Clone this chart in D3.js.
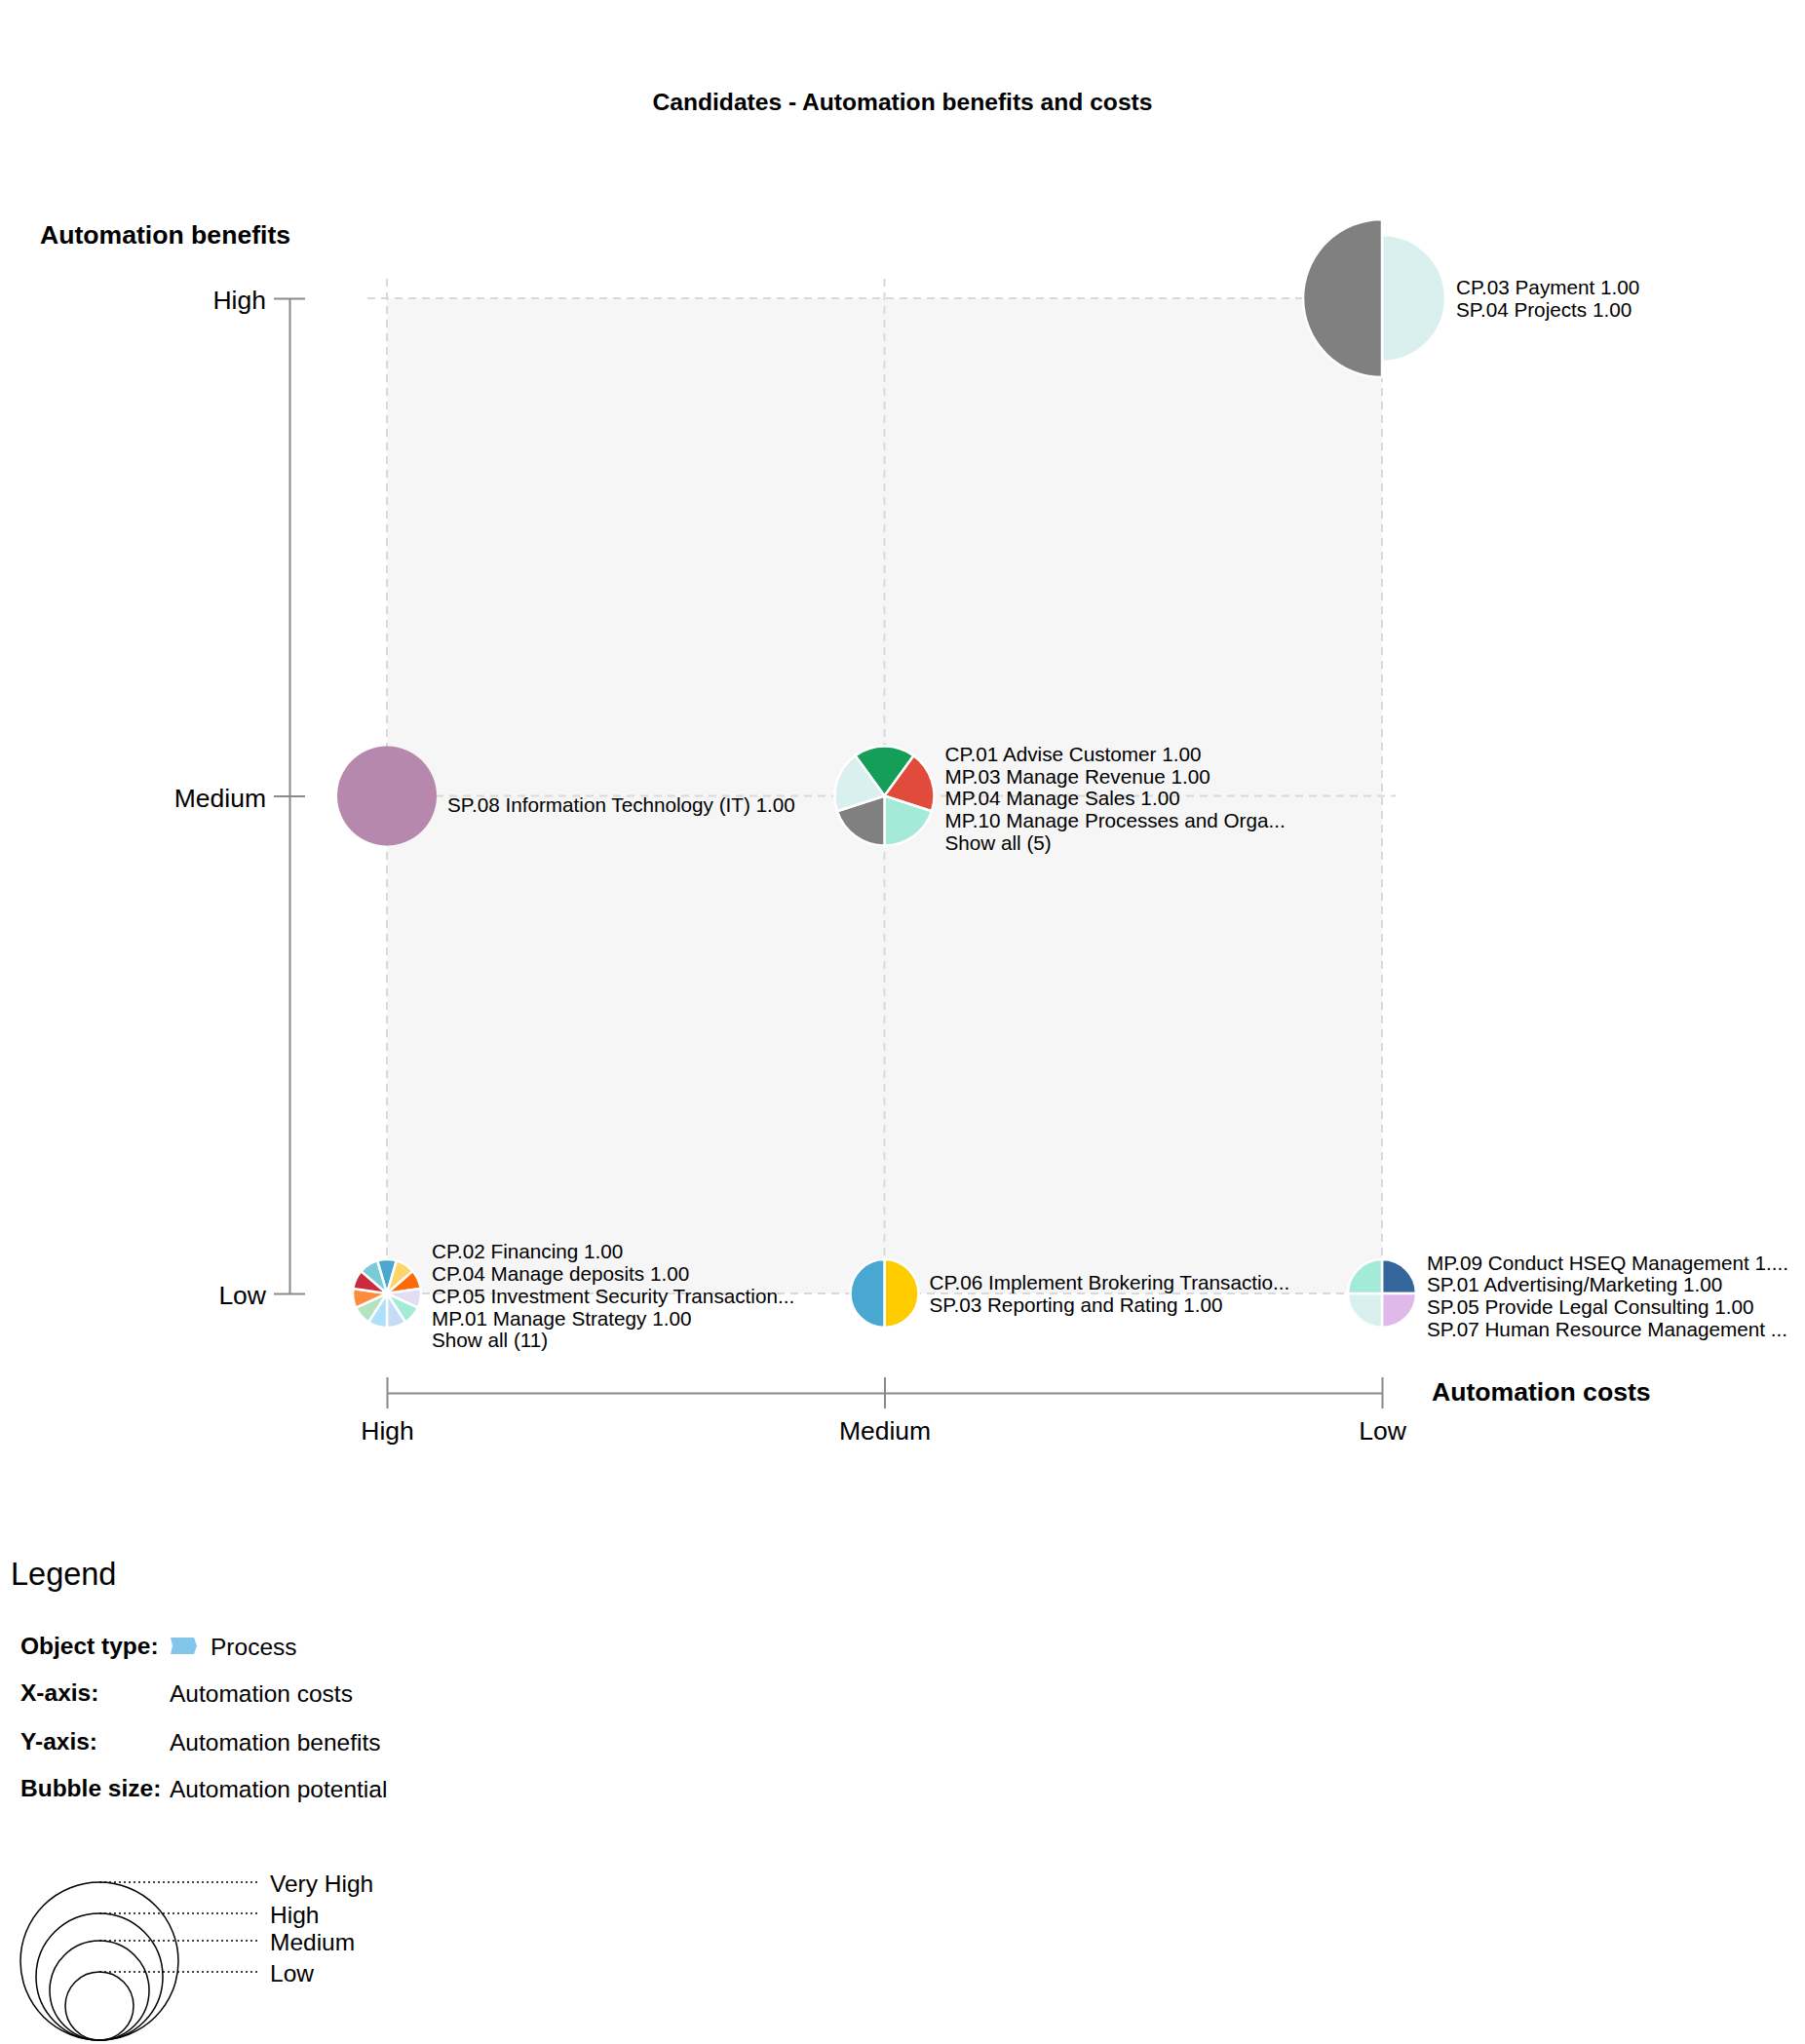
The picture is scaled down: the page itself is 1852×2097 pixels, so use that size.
<!DOCTYPE html>
<html>
<head>
<meta charset="utf-8">
<script src="https://cdn.jsdelivr.net/npm/d3@7"></script>
<style>
  body { margin: 0; background: #fff; overflow: hidden; }
  svg { display: block; font-family: "Liberation Sans", Arial, sans-serif; }
</style>
</head>
<body>
<script>
// axis levels
var costLevels = ['High', 'Medium', 'Low'];        // x axis, left to right
var benefitLevels = ['Low', 'Medium', 'High'];     // y axis, bottom to top
var potentialLevels = ['Low', 'Medium', 'High', 'Very High'];

// one entry per bubble
var bubbleCost = ['Low', 'High', 'Medium', 'High', 'Medium', 'Low'];
var bubbleBenefit = ['High', 'Medium', 'Medium', 'Low', 'Low', 'Low'];
var bubbleCount = [2, 1, 5, 11, 2, 4];
var bubbleLabels = [
    ['CP.03 Payment 1.00', 'SP.04 Projects 1.00'],
    ['SP.08 Information Technology (IT) 1.00'],
    ['CP.01 Advise Customer 1.00', 'MP.03 Manage Revenue 1.00', 'MP.04 Manage Sales 1.00', 'MP.10 Manage Processes and Orga...'],
    ['CP.02 Financing 1.00', 'CP.04 Manage deposits 1.00', 'CP.05 Investment Security Transaction...', 'MP.01 Manage Strategy 1.00'],
    ['CP.06 Implement Brokering Transactio...', 'SP.03 Reporting and Rating 1.00'],
    ['MP.09 Conduct HSEQ Management 1....', 'SP.01 Advertising/Marketing 1.00', 'SP.05 Provide Legal Consulting 1.00', 'SP.07 Human Resource Management ...']
];
// pie slices, clockwise
var sliceColors = [
    ['#daf0ef', '#808080'],
    ['#b788ad'],
    ['#149e57', '#e04b3b', '#a3ebd8', '#808080', '#daf0ef'],
    ['#4aa8d0', '#fdd66b', '#fe6a08', '#e1def2', '#a3ebd8', '#c6dcf4', '#aee0fa', '#b5e3c0', '#fe8c3f', '#c92a3e', '#7bcbd6'],
    ['#ffcc00', '#48a8d2'],
    ['#34659b', '#dfb9ea', '#daf0ef', '#a3ebd8']
];
var slicePotential = [
    ['High', 'Very High'],
    ['Medium'],
    ['Medium', 'Medium', 'Medium', 'Medium', 'Medium'],
    ['Low', 'Low', 'Low', 'Low', 'Low', 'Low', 'Low', 'Low', 'Low', 'Low', 'Low'],
    ['Low', 'Low'],
    ['Low', 'Low', 'Low', 'Low']
];

// legend texts
var legendKeys = ['Object type:', 'X-axis:', 'Y-axis:', 'Bubble size:'];
var legendValues = ['Process', 'Automation costs', 'Automation benefits', 'Automation potential'];

var W = 1852, H = 2097;
var svg = d3.select('body').append('svg').attr('width', W).attr('height', H);

var x = d3.scalePoint().domain(costLevels).range([397, 1418]);
var y = d3.scalePoint().domain(benefitLevels).range([1327, 306]);
var size = d3.scaleOrdinal().domain(potentialLevels).range([35, 51, 65, 81]);

// title
svg.append('text')
    .attr('x', 926).attr('y', 104.5).attr('dy', '0.35em')
    .attr('text-anchor', 'middle')
    .style('font-size', '24.6px').style('font-weight', 'bold')
    .text('Candidates - Automation benefits and costs');

// plot background + grid
svg.append('rect')
    .attr('x', x('High')).attr('y', y('High'))
    .attr('width', x('Low') - x('High')).attr('height', y('Low') - y('High'))
    .attr('fill', '#f6f6f6');

var grid = svg.append('g').attr('stroke', '#d9d9d9').attr('stroke-width', 2).attr('stroke-dasharray', '8,6');
grid.selectAll('.vg').data(costLevels).enter().append('line')
    .attr('x1', function(d){ return x(d); }).attr('x2', function(d){ return x(d); })
    .attr('y1', y('High') - 20).attr('y2', y('Low') + 20);
grid.selectAll('.hg').data(benefitLevels).enter().append('line')
    .attr('y1', function(d){ return y(d); }).attr('y2', function(d){ return y(d); })
    .attr('x1', x('High') - 20).attr('x2', x('Low') + 14);

// axes
var yAxis = svg.append('g').attr('transform', 'translate(297,0)')
    .call(d3.axisLeft(y).tickSizeInner(16).tickSizeOuter(0).tickPadding(8));
yAxis.selectAll('.tick line').attr('x1', 16);

var xAxis = svg.append('g').attr('transform', 'translate(0,1429)')
    .call(d3.axisBottom(x).tickSizeInner(16).tickSizeOuter(0).tickPadding(13));
xAxis.selectAll('.tick line').attr('y1', -16);

[yAxis, xAxis].forEach(function(a){
    a.select('.domain').attr('stroke', '#8a8a8a').attr('stroke-width', 2);
    a.selectAll('.tick line').attr('stroke', '#8a8a8a').attr('stroke-width', 2);
    a.selectAll('.tick text').attr('fill', '#000').style('font-size', '26.5px').style('font-family', '"Liberation Sans", Arial, sans-serif');
});
yAxis.selectAll('.tick text').attr('dy', '0.4em');

svg.append('text').attr('x', 41).attr('y', 241).attr('dy', '0.35em')
    .style('font-size', '26.6px').style('font-weight', 'bold').text('Automation benefits');
svg.append('text').attr('x', 1469).attr('y', 1428).attr('dy', '0.35em')
    .style('font-size', '26.6px').style('font-weight', 'bold').text('Automation costs');

// bubbles
var arc = d3.arc().innerRadius(0).outerRadius(function(d){ return size(d.data.p); });

bubbleCost.forEach(function(c, i){
    var cx = x(c), cy = y(bubbleBenefit[i]);
    var n = sliceColors[i].length;
    var off = n % 2 ? -Math.PI / n : 0; // keep pie symmetric about the vertical
    var slices = sliceColors[i].map(function(col, j){ return { col: col, p: slicePotential[i][j] }; });
    var pie = d3.pie().value(1).sort(null).startAngle(off).endAngle(off + 2 * Math.PI);
    var g = svg.append('g').attr('transform', 'translate(' + cx + ',' + cy + ')');
    g.selectAll('path').data(pie(slices)).enter().append('path')
        .attr('d', arc)
        .attr('fill', function(d){ return d.data.col; })
        .attr('stroke', n > 1 ? '#fff' : 'none')
        .attr('stroke-width', 2.5);

    var lines = bubbleLabels[i].slice();
    if (bubbleCount[i] > lines.length) lines.push('Show all (' + bubbleCount[i] + ')');
    var minR = d3.min(slicePotential[i], function(p){ return size(p); });
    var lh = 22.7;
    var nl = lines.length;
    var dy = nl === 1 ? 9 : (nl > 2 ? 2.6 : 0);
    var y0 = cy - (nl - 1) * lh / 2 + dy;
    svg.append('g').selectAll('text').data(lines).enter().append('text')
        .attr('x', cx + minR + 11)
        .attr('y', function(d, k){ return y0 + k * lh; })
        .attr('dy', '0.35em')
        .style('font-size', '20.7px')
        .text(function(d){ return d; });
});

// legend
svg.append('text').attr('x', 11).attr('y', 1615).attr('dy', '0.35em')
    .style('font-size', '32.5px').text('Legend');

var legendY = [1689, 1737, 1787, 1835];
legendKeys.forEach(function(k, i){
    svg.append('text').attr('x', 21).attr('y', legendY[i] - 1).attr('dy', '0.35em')
        .style('font-size', '24.5px').style('font-weight', 'bold').text(k);
    svg.append('text').attr('x', i === 0 ? 216 : 174).attr('y', legendY[i]).attr('dy', '0.35em')
        .style('font-size', '24.5px').text(legendValues[i]);
});
// process icon
svg.append('path')
    .attr('d', 'M175,1680 L199,1680 L202,1688.5 L199,1697 L175,1697 L177,1688.5 Z')
    .attr('fill', '#84c5ea');

// bubble size legend
var lcx = 102, lbottom = 2093;
var sizes = potentialLevels.slice().reverse();
var lg = svg.append('g');
lg.selectAll('circle').data(sizes).enter().append('circle')
    .attr('cx', lcx)
    .attr('cy', function(d){ return lbottom - size(d); })
    .attr('r', function(d){ return size(d); })
    .attr('fill', 'none').attr('stroke', '#000').attr('stroke-width', 1.5);
lg.selectAll('line').data(sizes).enter().append('line')
    .attr('x1', lcx).attr('x2', 265)
    .attr('y1', function(d){ return lbottom - 2 * size(d); })
    .attr('y2', function(d){ return lbottom - 2 * size(d); })
    .attr('stroke', '#000').attr('stroke-width', 1.6).attr('stroke-dasharray', '2,3');
lg.selectAll('text').data(sizes).enter().append('text')
    .attr('x', 277)
    .attr('y', function(d){ return lbottom - 2 * size(d) + 1; })
    .attr('dy', '0.35em')
    .style('font-size', '24.5px')
    .text(function(d){ return d; });
</script>
</body>
</html>
